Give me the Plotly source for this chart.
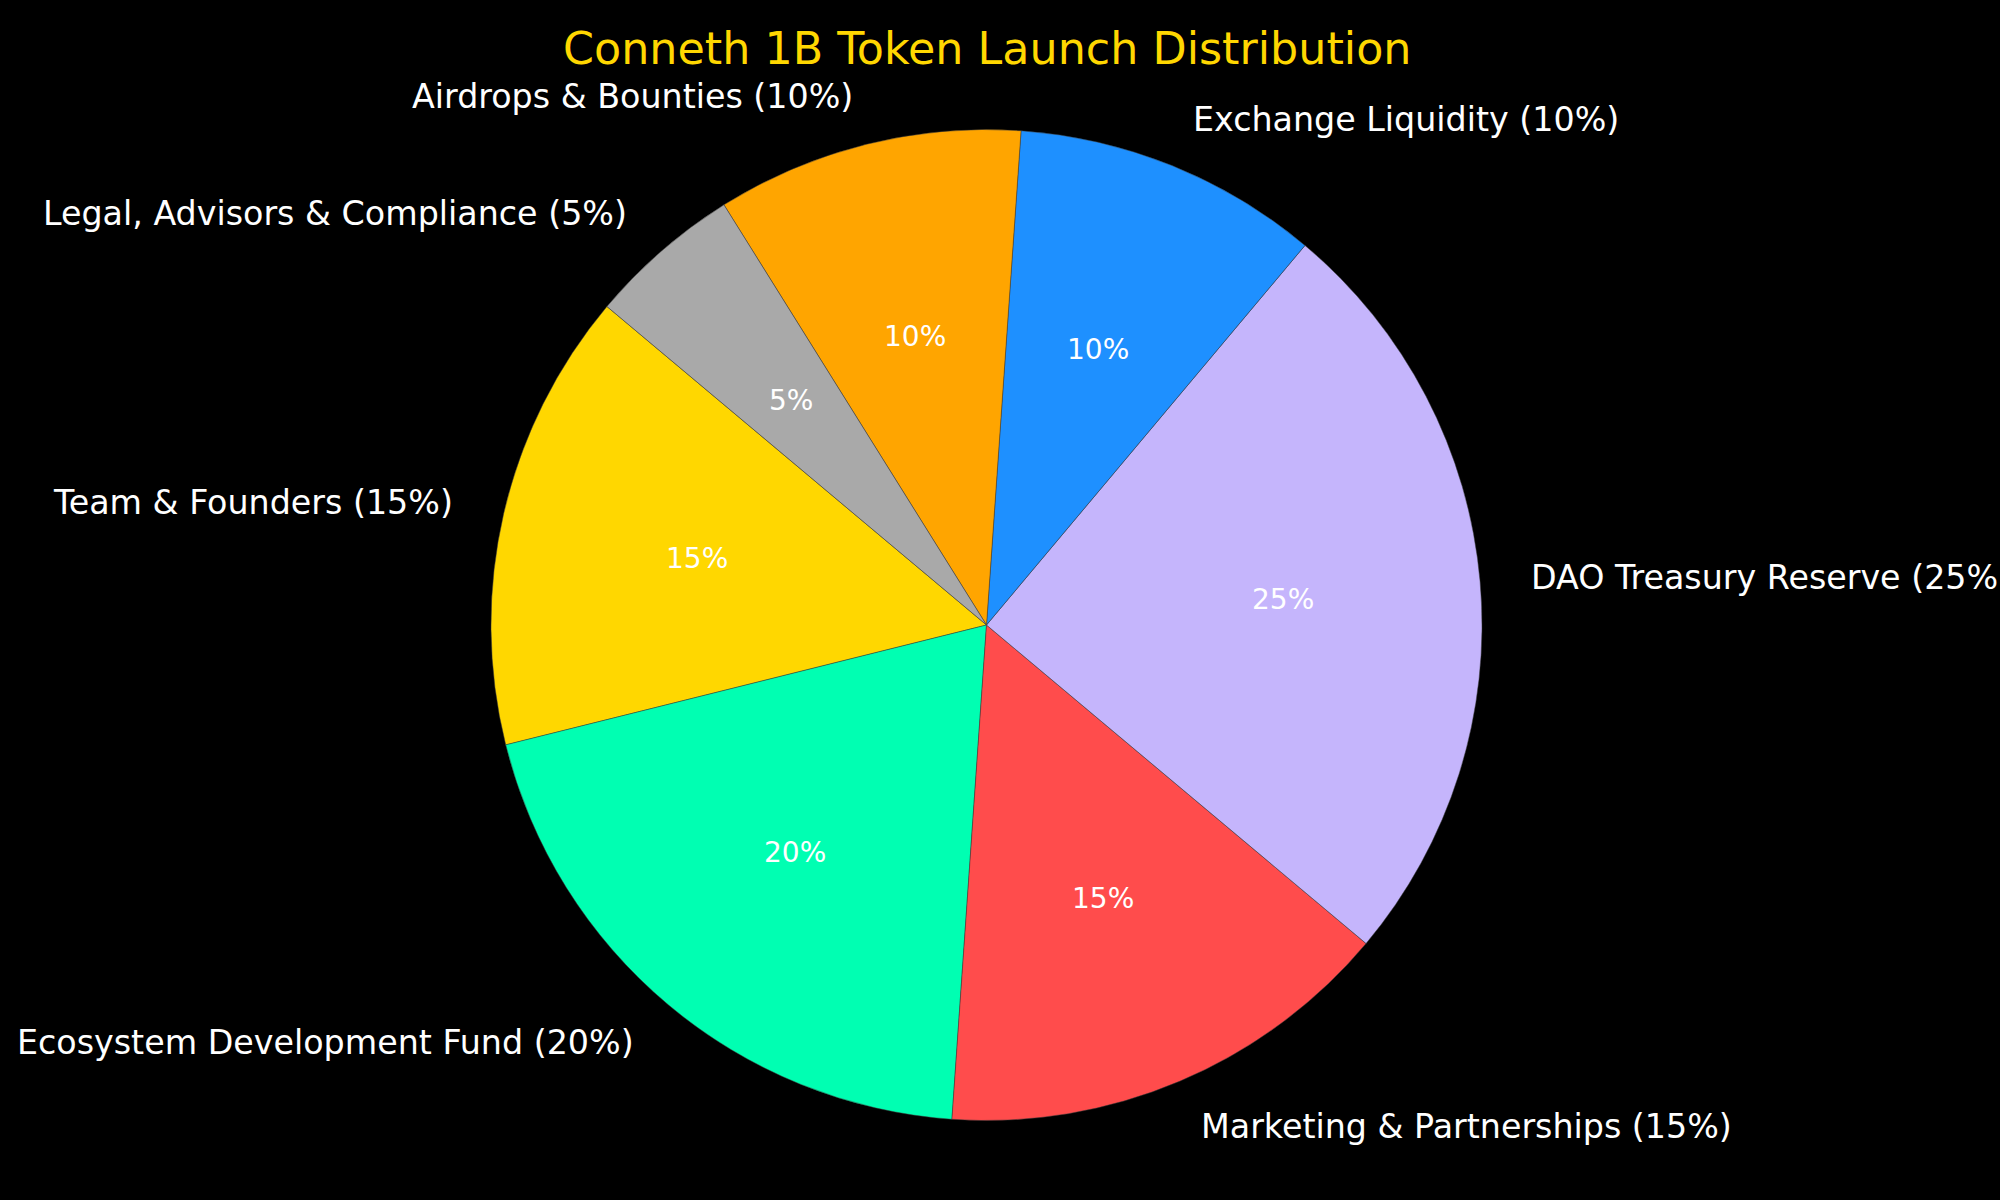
import math
import plotly.graph_objects as go

labels = ["Team & Founders", "Ecosystem Development Fund", "Marketing & Partnerships",
          "DAO Treasury Reserve", "Exchange Liquidity", "Airdrops & Bounties",
          "Legal, Advisors & Compliance"]
values = [15, 20, 15, 25, 10, 10, 5]
colors = ["#FFD700", "#00FFB2", "#FF4C4C", "#C5B5FC", "#1E90FF", "#FFA500", "#A9A9A9"]
title_text = "Conneth 1B Token Launch Distribution"

W, H = 2000, 1200
cx, cy, R = 986.5, 625.0, 495.5
start_angle = 140.0  # degrees, counterclockwise from 3 o'clock

total = sum(values)
first_span = 360.0 * values[0] / total

fig = go.Figure()
fig.add_trace(go.Pie(
    labels=labels, values=values, sort=False, direction="counterclockwise",
    rotation=90 - start_angle - first_span,
    marker=dict(colors=colors, line=dict(color="rgba(60,60,60,0.8)", width=0.6)),
    textinfo="none", hoverinfo="label+percent", showlegend=False,
    domain=dict(x=[(cx - R) / W, (cx + R) / W], y=[(H - cy - R) / H, (H - cy + R) / H]),
))

ang = start_angle
annotations = []
for lab, v in zip(labels, values):
    span = 360.0 * v / total
    mid = math.radians(ang + span / 2)
    ang += span
    pct = f"{round(100 * v / total)}%"
    px = cx + 0.6 * R * math.cos(mid)
    py = cy - 0.6 * R * math.sin(mid)
    annotations.append(dict(x=px / W, y=1 - py / H, xref="paper", yref="paper",
                            text=pct, showarrow=False, xanchor="center", yanchor="middle",
                            font=dict(family="DejaVu Sans", size=28, color="white")))
    lx = cx + 1.1 * R * math.cos(mid)
    ly = cy - 1.1 * R * math.sin(mid)
    annotations.append(dict(x=lx / W, y=1 - ly / H, xref="paper", yref="paper",
                            text=f"{lab} ({pct})", showarrow=False,
                            xanchor="left" if math.cos(mid) > 0 else "right", yanchor="middle",
                            font=dict(family="DejaVu Sans", size=33.3, color="white")))

annotations.append(dict(x=cx / W, y=1 - 48.5 / H, xref="paper", yref="paper",
                        text=title_text, showarrow=False, xanchor="center", yanchor="middle",
                        font=dict(family="DejaVu Sans", size=44.4, color="#FFD700")))

fig.update_layout(
    width=W, height=H, margin=dict(l=0, r=0, t=0, b=0),
    paper_bgcolor="black", plot_bgcolor="black",
    annotations=annotations,
)
fig.write_html("out.html")
